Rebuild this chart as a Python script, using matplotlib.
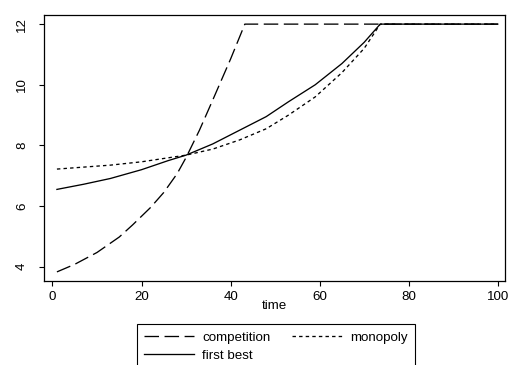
import matplotlib
matplotlib.use("Agg")
import matplotlib.pyplot as plt

plt.rcParams['font.family'] = ['Liberation Sans', 'DejaVu Sans']

# values
comp_t = [1, 5, 10, 15, 18, 22, 25, 28, 30, 33, 36, 40, 43.2, 100]
comp_v = [3.83, 4.08, 4.47, 4.98, 5.38, 5.95, 6.45, 7.07, 7.6, 8.5, 9.5, 10.85, 12.0, 12.0]

mono_t = [1, 13, 20, 30, 36, 42, 48, 53, 59, 65, 70, 73.6, 100]
mono_v = [7.22, 7.35, 7.46, 7.68, 7.88, 8.18, 8.55, 9.0, 9.6, 10.4, 11.2, 12.0, 12.0]

fb_t = [1, 7, 13, 20, 26, 30, 36, 42, 48, 53, 59, 65, 70, 73.6, 100]
fb_v = [6.55, 6.72, 6.91, 7.2, 7.5, 7.68, 8.05, 8.5, 8.95, 9.44, 10.0, 10.7, 11.4, 12.0, 12.0]

xticks = [0, 20, 40, 60, 80, 100]
yticks = [4, 6, 8, 10, 12]

fs = 9.6
fig = plt.figure(figsize=(5.1, 3.65), dpi=100)
ax = fig.add_axes([0.0863, 0.231, 0.9037, 0.727])

lw = 0.95
ax.plot(comp_t, comp_v, color='black', lw=lw, linestyle=(0, (11, 4.2)), label='competition')
ax.plot(fb_t, fb_v, color='black', lw=lw, linestyle='-', label='first best')
ax.plot(mono_t, mono_v, color='black', lw=lw, linestyle=(0, (2.6, 2.4)), label='monopoly')

ax.set_xlim(-1.9, 101.6)
ax.set_ylim(3.54, 12.29)
ax.set_xticks(xticks)
ax.set_yticks(yticks)
ax.tick_params(axis='both', direction='out', length=3.6, width=0.8, labelsize=fs)
ax.tick_params(axis='x', pad=3.6)
ax.tick_params(axis='y', pad=8)
for lab in ax.get_yticklabels():
    lab.set_rotation(90)
    lab.set_va('center')
for s in ax.spines.values():
    s.set_linewidth(0.9)

ax.set_xlabel('time', fontsize=fs)
ax.xaxis.set_label_coords(0.499, -0.0746)

leg = ax.legend(loc='upper left', bbox_to_anchor=(136.7 / 510, 1 - 324 / 365),
                bbox_transform=fig.transFigure,
                ncol=2, fontsize=fs, frameon=True, fancybox=False,
                edgecolor='black', framealpha=1, handlelength=3.75,
                handletextpad=0.63, columnspacing=1.58, labelspacing=0.45,
                borderpad=0.55, borderaxespad=0)
leg.get_frame().set_linewidth(0.8)

fig.savefig('out.png', dpi=100)
